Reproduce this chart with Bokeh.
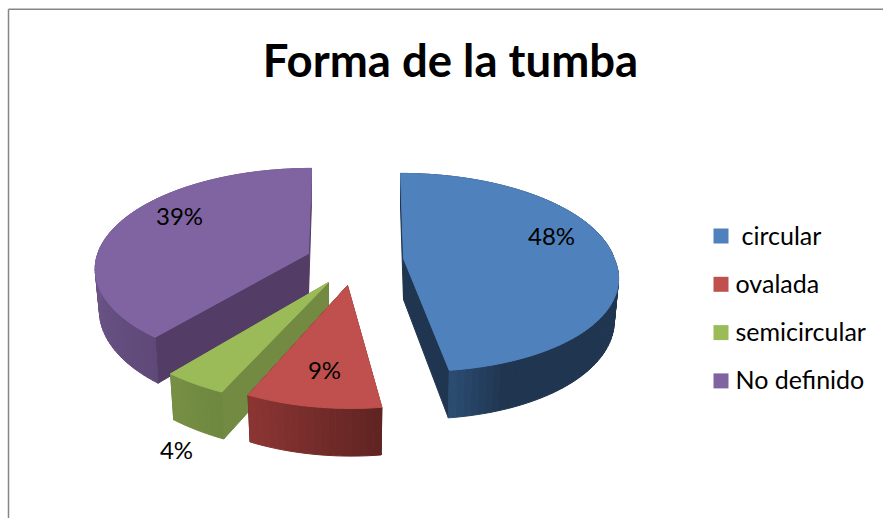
import math
from bokeh.plotting import figure
from bokeh.models import ColumnDataSource
from bokeh.core.properties import value
from bokeh.embed import file_html
from bokeh.resources import INLINE

# ---- data ----
title = "Forma de la tumba"
categories = ["circular", "ovalada", "semicircular", "No definido"]
values = [48, 9, 4, 39]

# ---- styles and layout ----
top_colors = ["#4f81bd", "#c0504d", "#9bbb59", "#8064a2"]
wall_colors = ["#1f3550", "#5f2321", "#728a41", "#533d67"]
arc_shades = [
    [(0.0, "#1f3550"), (0.92, "#1f3550"), (1.0, "#2c4c72")],
    [(0.0, "#5f2321"), (1.0, "#8c3634")],
    [(0.0, "#6f8840"), (1.0, "#768f44")],
    [(0.0, "#5e4979"), (0.35, "#6e5589"), (1.0, "#6e5589")],
]
apex = [(403, 258), (347, 285), (328, 282), (308, 253)]
scale_x = [0.98, 0.98, 1.04, 0.98]
scale_y = [1.0, 1.09, 1.09, 1.0]
skew_front = [0.135, 0.03, 0.02, -0.035]
skew_back = [0.035, 0.0, 0.0, -0.035]
label_pos = [(551, 235), (324, 369), (176, 449), (179, 215)]
legend_text_x = [741, 735, 735, 735]
draw_order = [3, 0, 2, 1]
A, B, K = 215.0, 97.0, 0.14
DEPTH, SHRINK = 41.0, 0.98
W, H = 883, 518
FONT = "Lato"


def project(i, theta):
    x, y = math.sin(theta), math.cos(theta)
    w = 1.0 / (1.0 + K * y)
    dy = -B * scale_y[i] * y * w
    dx = A * scale_x[i] * x * w + (skew_front[i] if dy > 0 else skew_back[i]) * dy
    return dx, dy, w


def top_pt(i, theta):
    dx, dy, _ = project(i, theta)
    return apex[i][0] + dx, apex[i][1] + dy


def bottom_pt(i, theta):
    dx, dy, w = project(i, theta)
    return apex[i][0] + dx * SHRINK, apex[i][1] + dy + DEPTH * w


def rgb(h):
    return [int(h[i:i + 2], 16) for i in (1, 3, 5)]


def shade(stops, f):
    for (f0, c0), (f1, c1) in zip(stops, stops[1:]):
        if f <= f1:
            t = (f - f0) / (f1 - f0)
            a, b = rgb(c0), rgb(c1)
            return "#%02x%02x%02x" % tuple(round(p + (q - p) * t) for p, q in zip(a, b))
    return stops[-1][1]


xs, ys, cols = [], [], []


def add(poly, col):
    xs.append([p[0] for p in poly])
    ys.append([p[1] for p in poly])
    cols.append(col)


total = sum(values)
starts = [2 * math.pi * sum(values[:i]) / total for i in range(len(values))]
ends = [2 * math.pi * sum(values[:i + 1]) / total for i in range(len(values))]

for i in draw_order:
    c = apex[i]
    t0, t1 = starts[i], ends[i]
    n = max(6, int(values[i] * 2))
    th = [t0 + (t1 - t0) * j / n for j in range(n + 1)]
    c_b = (c[0], c[1] + DEPTH)
    for t in (t0, t1):
        add([c, top_pt(i, t), bottom_pt(i, t), c_b], wall_colors[i])
    for j in range(n):
        f = (j + 0.5) / n
        add([top_pt(i, th[j]), top_pt(i, th[j + 1]), bottom_pt(i, th[j + 1]), bottom_pt(i, th[j])],
            shade(arc_shades[i], f))
    add([c] + [top_pt(i, t) for t in th], top_colors[i])

p = figure(width=W, height=H, x_range=(0, W), y_range=(H, 0),
           output_backend="svg", toolbar_location=None, min_border=0)
p.axis.visible = False
p.grid.visible = False
p.outline_line_color = None
p.background_fill_color = "white"

# frame: top and left edges only
p.segment(x0=[8, 8], y0=[8.7, 8.7], x1=[W, 8], y1=[8.7, H], line_color="#868686", line_width=1.5)

src = ColumnDataSource(dict(xs=xs, ys=ys, c=cols))
p.patches("xs", "ys", source=src, fill_color="c", line_color="c", line_width=1)

p.text(x=[450], y=[59], text=[title], text_font=value(FONT), text_font_style="bold",
       text_font_size="45.5px", text_align="center", text_baseline="middle", text_color="#000000")

p.text(x=[q[0] for q in label_pos], y=[q[1] for q in label_pos],
       text=[f"{v}%" for v in values], text_font=value(FONT), text_font_size="24px",
       text_align="center", text_baseline="middle", text_color="#000000")

leg_y = [235.5 + 48.3 * i for i in range(len(categories))]
p.rect(x=[720.5] * 4, y=leg_y, width=15, height=15, fill_color=top_colors, line_color=None)
p.text(x=legend_text_x, y=[v - 1.5 for v in leg_y], text=categories, text_font=value(FONT), text_font_size="25px",
       text_align="left", text_baseline="middle", text_color="#000000")

open("out.html", "w").write(file_html(p, INLINE))
